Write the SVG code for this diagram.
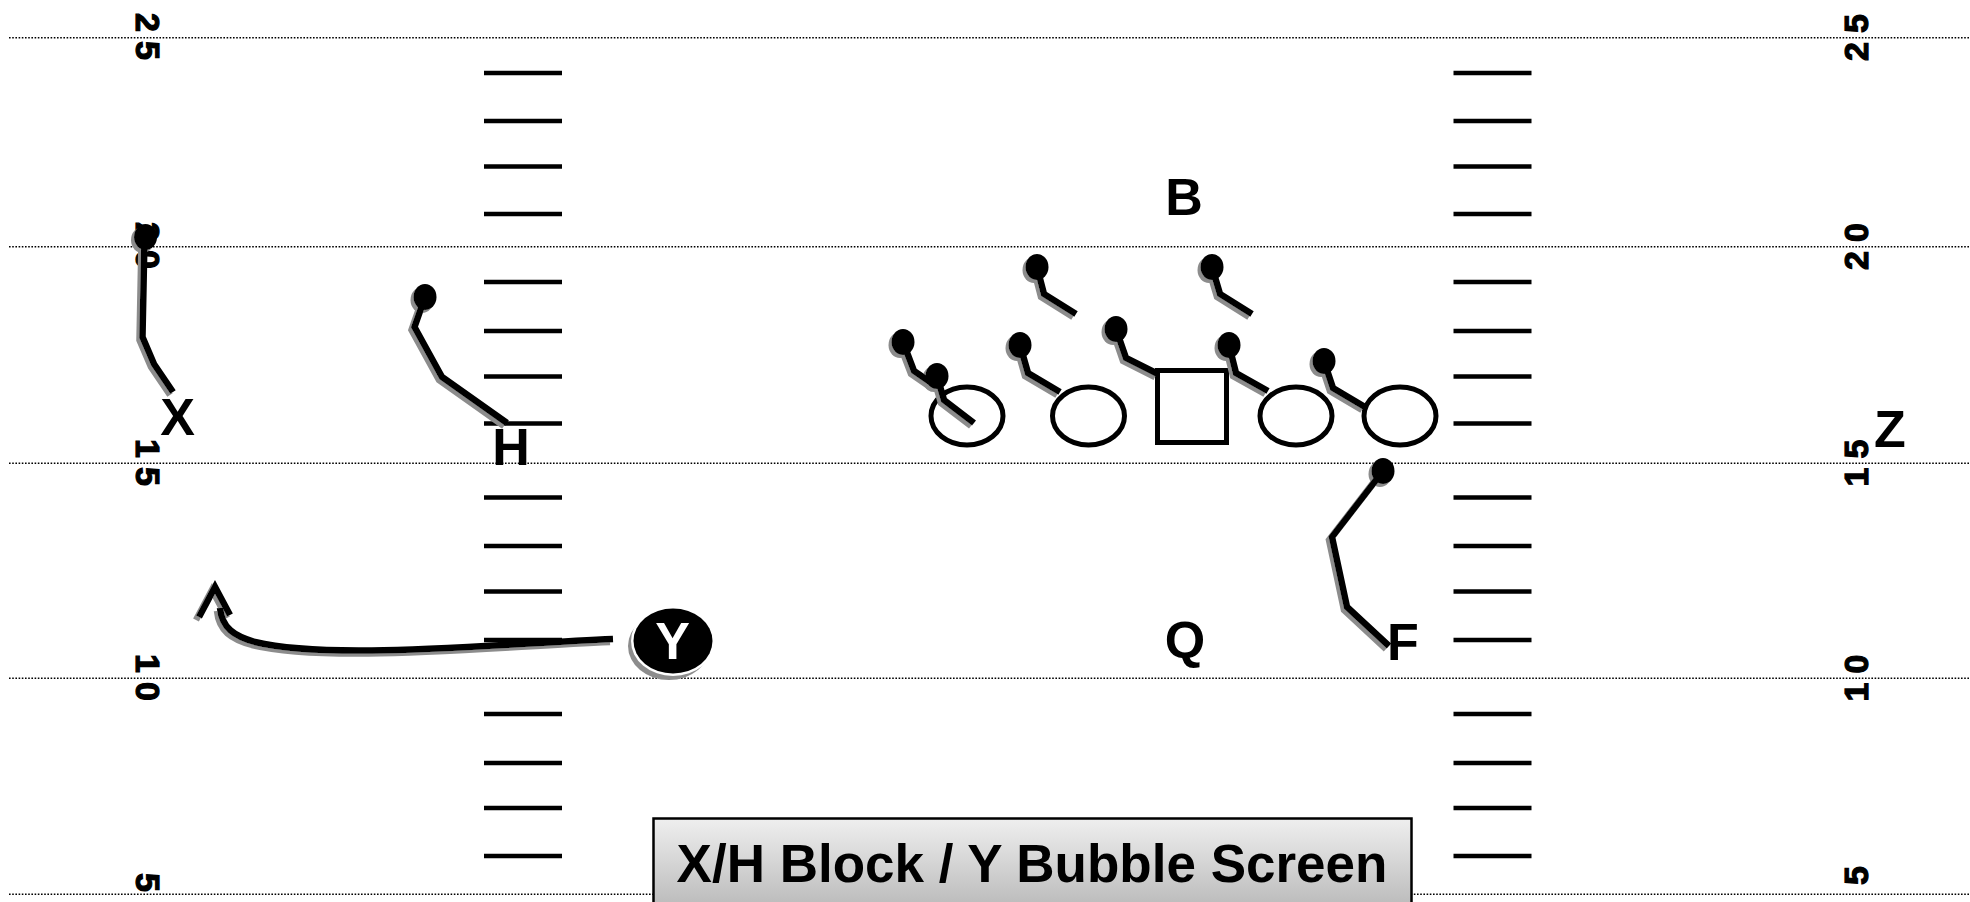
<svg xmlns="http://www.w3.org/2000/svg" width="1970" height="902" viewBox="0 0 1970 902">
<style>
.yl{stroke:#000;stroke-width:1.4;stroke-dasharray:1.6 1.6;fill:none}
.hm{stroke:#000;stroke-width:4.5}
.num{font-family:"Liberation Sans",Arial,sans-serif;font-weight:bold;font-size:34px;letter-spacing:9px;fill:#000;stroke:#000;stroke-width:1.2}
.lbl{font-family:"Liberation Sans",Arial,sans-serif;font-weight:bold;font-size:52px;fill:#000;text-anchor:middle}
.rt{stroke:#000;stroke-width:6.5;fill:none;stroke-linejoin:miter;stroke-linecap:butt}
.dot{fill:#000}
.ol{fill:#fff;stroke:#000;stroke-width:5}
.ttl{font-family:"Liberation Sans",Arial,sans-serif;font-weight:bold;font-size:53px;fill:#000;text-anchor:middle}
</style>
<defs>
<filter id="sh" filterUnits="userSpaceOnUse" x="0" y="0" width="1970" height="902">
<feOffset in="SourceAlpha" dx="-3" dy="3" result="o"/>
<feFlood flood-color="#8c8c8c"/>
<feComposite in2="o" operator="in" result="s"/>
<feMerge><feMergeNode in="s"/><feMergeNode in="SourceGraphic"/></feMerge>
</filter>
<linearGradient id="tg" x1="0" y1="0" x2="0" y2="1">
<stop offset="0" stop-color="#efefef"/>
<stop offset="1" stop-color="#b4b4b4"/>
</linearGradient>
</defs>
<rect width="1970" height="902" fill="#fff"/>
<g id="field">
<line class="yl" x1="9" y1="37.7" x2="1970" y2="37.7"/>
<line class="yl" x1="9" y1="246.7" x2="1970" y2="246.7"/>
<line class="yl" x1="9" y1="463.3" x2="1970" y2="463.3"/>
<line class="yl" x1="9" y1="678.3" x2="1970" y2="678.3"/>
<line class="yl" x1="9" y1="894.3" x2="1970" y2="894.3"/>
<g id="hash-left">
<line class="hm" x1="484" y1="72.9" x2="562" y2="72.9"/>
<line class="hm" x1="484" y1="121" x2="562" y2="121"/>
<line class="hm" x1="484" y1="166.5" x2="562" y2="166.5"/>
<line class="hm" x1="484" y1="214" x2="562" y2="214"/>
<line class="hm" x1="484" y1="282" x2="562" y2="282"/>
<line class="hm" x1="484" y1="331" x2="562" y2="331"/>
<line class="hm" x1="484" y1="376.5" x2="562" y2="376.5"/>
<line class="hm" x1="484" y1="423.4" x2="562" y2="423.4"/>
<line class="hm" x1="484" y1="497.6" x2="562" y2="497.6"/>
<line class="hm" x1="484" y1="546" x2="562" y2="546"/>
<line class="hm" x1="484" y1="591.5" x2="562" y2="591.5"/>
<line class="hm" x1="484" y1="640" x2="562" y2="640"/>
<line class="hm" x1="484" y1="714" x2="562" y2="714"/>
<line class="hm" x1="484" y1="763" x2="562" y2="763"/>
<line class="hm" x1="484" y1="808" x2="562" y2="808"/>
<line class="hm" x1="484" y1="856" x2="562" y2="856"/>
</g>
<g id="hash-right">
<line class="hm" x1="1453.5" y1="72.9" x2="1531.5" y2="72.9"/>
<line class="hm" x1="1453.5" y1="121" x2="1531.5" y2="121"/>
<line class="hm" x1="1453.5" y1="166.5" x2="1531.5" y2="166.5"/>
<line class="hm" x1="1453.5" y1="214" x2="1531.5" y2="214"/>
<line class="hm" x1="1453.5" y1="282" x2="1531.5" y2="282"/>
<line class="hm" x1="1453.5" y1="331" x2="1531.5" y2="331"/>
<line class="hm" x1="1453.5" y1="376.5" x2="1531.5" y2="376.5"/>
<line class="hm" x1="1453.5" y1="423.4" x2="1531.5" y2="423.4"/>
<line class="hm" x1="1453.5" y1="497.6" x2="1531.5" y2="497.6"/>
<line class="hm" x1="1453.5" y1="546" x2="1531.5" y2="546"/>
<line class="hm" x1="1453.5" y1="591.5" x2="1531.5" y2="591.5"/>
<line class="hm" x1="1453.5" y1="640" x2="1531.5" y2="640"/>
<line class="hm" x1="1453.5" y1="714" x2="1531.5" y2="714"/>
<line class="hm" x1="1453.5" y1="763" x2="1531.5" y2="763"/>
<line class="hm" x1="1453.5" y1="808" x2="1531.5" y2="808"/>
<line class="hm" x1="1453.5" y1="856" x2="1531.5" y2="856"/>
</g>
<g id="numbers-left">
<text class="num" transform="translate(136,13) rotate(90)">25</text>
<text class="num" transform="translate(136,222) rotate(90)">20</text>
<text class="num" transform="translate(136,439) rotate(90)">15</text>
<text class="num" transform="translate(136,654) rotate(90)">10</text>
<text class="num" transform="translate(136,873) rotate(90)">5</text>
</g>
<g id="numbers-right">
<text class="num" transform="translate(1868,61) rotate(-90)">25</text>
<text class="num" transform="translate(1868,270) rotate(-90)">20</text>
<text class="num" transform="translate(1868,486.5) rotate(-90)">15</text>
<text class="num" transform="translate(1868,701.5) rotate(-90)">10</text>
<text class="num" transform="translate(1868,885) rotate(-90)">5</text>
</g>
</g>
<g id="offensive-line">
<ellipse class="ol" cx="967" cy="416" rx="36" ry="29"/>
<ellipse class="ol" cx="1088.5" cy="416" rx="36" ry="29"/>
<rect id="center" class="ol" x="1157.5" y="370.5" width="69" height="72"/>
<ellipse class="ol" cx="1296" cy="416" rx="36" ry="29"/>
<ellipse class="ol" cx="1400" cy="416" rx="36" ry="29"/>
</g>
<g id="connectors" filter="url(#sh)">
<g id="route-x"><polyline class="rt" points="144.5,238 142.5,337 154,364 173,392"/><ellipse class="dot" cx="145.5" cy="237" rx="11.5" ry="13"/></g>
<g id="route-h"><polyline class="rt" points="425,297 414.5,327 442,377 507,423"/><ellipse class="dot" cx="425" cy="297" rx="11.5" ry="13"/></g>
<g id="route-f"><polyline class="rt" points="1383,471 1332,537 1347,607 1389,646"/><ellipse class="dot" cx="1383" cy="471" rx="11.5" ry="13"/></g>
<g id="route-y">
<path class="rt" d="M613,639 C480,645 330,660 255,642 C234,636 222,628 220,608"/>
<polyline class="rt" points="199,617 215,587 230,615"/>
</g>
<g id="def-1"><polyline class="rt" points="903,342 914,371 936,386"/><ellipse class="dot" cx="903" cy="342" rx="11.5" ry="13"/></g>
<g id="def-2"><polyline class="rt" points="937,376 944,400 974,423"/><ellipse class="dot" cx="937" cy="376" rx="11.5" ry="13"/></g>
<g id="def-3"><polyline class="rt" points="1037,267 1044,294 1076,314"/><ellipse class="dot" cx="1037" cy="267" rx="11.5" ry="13"/></g>
<g id="def-4"><polyline class="rt" points="1212,267 1220,294 1252,314"/><ellipse class="dot" cx="1212" cy="267" rx="11.5" ry="13"/></g>
<g id="def-5"><polyline class="rt" points="1020,345 1028,373 1060,392"/><ellipse class="dot" cx="1020" cy="345" rx="11.5" ry="13"/></g>
<g id="def-6"><polyline class="rt" points="1116,329 1126,358 1158,374"/><ellipse class="dot" cx="1116" cy="329" rx="11.5" ry="13"/></g>
<g id="def-7"><polyline class="rt" points="1229,345 1236,373 1268,391"/><ellipse class="dot" cx="1229" cy="345" rx="11.5" ry="13"/></g>
<g id="def-8"><polyline class="rt" points="1324,361 1333,388 1365,407"/><ellipse class="dot" cx="1324" cy="361" rx="11.5" ry="13"/></g>
</g>
<g id="node-x"><text class="lbl" x="177.5" y="435">X</text></g>
<g id="node-h"><text class="lbl" x="511" y="465">H</text></g>
<g id="node-b"><text class="lbl" x="1184" y="215">B</text></g>
<g id="node-q"><text class="lbl" x="1185" y="658">Q</text></g>
<g id="node-f"><text class="lbl" x="1403" y="660">F</text></g>
<g id="node-z"><text class="lbl" x="1890" y="447">Z</text></g>
<g id="node-y">
<ellipse cx="669" cy="646" rx="41" ry="34" fill="#8c8c8c"/>
<ellipse cx="673" cy="641" rx="42" ry="35" fill="#fff"/>
<ellipse cx="673" cy="641" rx="39.5" ry="32.5" fill="#000"/>
<text class="lbl" x="672.5" y="659" style="fill:#fff;font-size:52px">Y</text>
</g>
<g id="title">
<rect x="653.5" y="818.5" width="758" height="100" fill="url(#tg)" stroke="#000" stroke-width="2.5"/>
<text class="ttl" x="1032" y="881.5">X/H Block / Y Bubble Screen</text>
</g>
</svg>
